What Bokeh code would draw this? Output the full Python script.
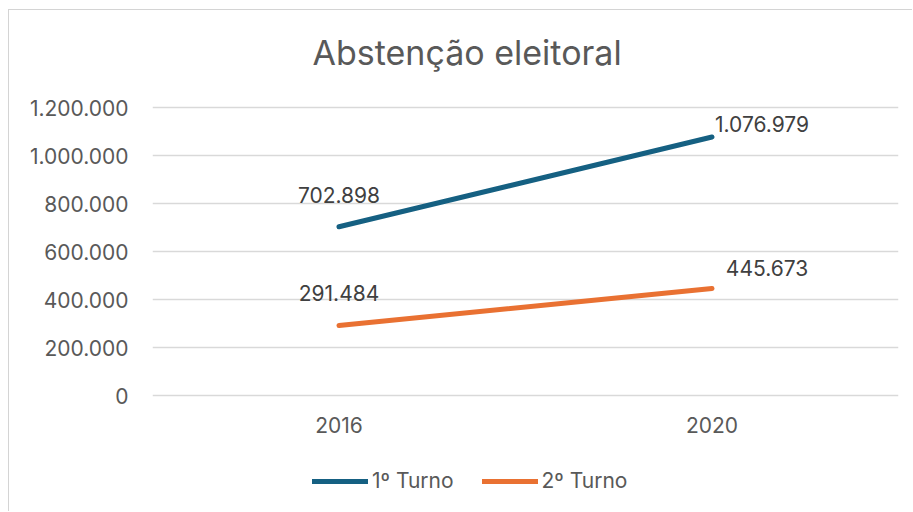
from bokeh.plotting import figure
from bokeh.models import (Range1d, FactorRange, FixedTicker, CustomJSTickFormatter,
                          Legend, LegendItem, ColumnDataSource)
from bokeh.core.properties import value
from bokeh.embed import file_html
from bokeh.resources import INLINE

# ---- data ----
years = ["2016", "2020"]
turno1 = [702898, 1076979]
turno2 = [291484, 445673]
series_names = ["1º Turno", "2º Turno"]
y_ticks = [0, 200000, 400000, 600000, 800000, 1000000, 1200000]
title_text = "Abstenção eleitoral"

FONT = "Inter"
AXIS_COL = "#595959"
LABEL_COL = "#404040"
BLUE = "#156082"
ORANGE = "#E97132"

# layout (pixels)
W, H = 904, 502
TOP, LEFT, RIGHT, BOTTOM = 79, 143, 15, 2
PLOT_H = 288                      # pixels from 0 to the top tick
TOP_PAD = 18                      # empty pixels above the top tick inside the frame
FRAME_H = H - TOP - BOTTOM
units_per_px = y_ticks[-1] / PLOT_H
y_low = -(FRAME_H - PLOT_H - TOP_PAD) * units_per_px
y_high = y_ticks[-1] + TOP_PAD * units_per_px


def fmt(v):
    return f"{v:,}".replace(",", ".")


p = figure(width=W, height=H,
           x_range=FactorRange(*years),
           y_range=Range1d(y_low, y_high),
           output_backend="svg", toolbar_location=None,
           min_border_left=LEFT, min_border_right=RIGHT,
           min_border_top=TOP, min_border_bottom=BOTTOM)
p.styles = {"margin-left": "8px", "margin-top": "9px",
            "border-left": "1px solid #d4d4d4", "border-top": "1px solid #d4d4d4"}

p.outline_line_color = None
p.background_fill_color = "white"
p.border_fill_color = "white"

# title
p.title.text = title_text
p.title.align = "left"
p.title.vertical_align = "top"
p.title.text_font = FONT
p.title.text_font_size = "34px"
p.title.text_font_style = "normal"
p.title.text_color = AXIS_COL
p.title.offset = 160
if "standoff" in p.title.properties():
    p.title.standoff = 30

# axes
p.yaxis.ticker = FixedTicker(ticks=y_ticks)
p.yaxis.formatter = CustomJSTickFormatter(
    code=r"return tick.toFixed(0).replace(/\B(?=(\d{3})+(?!\d))/g, '.');")
for ax in (p.xaxis[0], p.yaxis[0]):
    ax.axis_line_color = None
    ax.major_tick_line_color = None
    ax.minor_tick_line_color = None
    ax.major_tick_out = 0
    ax.major_tick_in = 0
    ax.major_label_text_font = FONT
    ax.major_label_text_font_size = "21px"
    ax.major_label_text_color = AXIS_COL
p.yaxis.major_label_standoff = 24
p.xaxis.fixed_location = 0
p.xaxis.major_label_standoff = 21

p.xgrid.grid_line_color = None
p.ygrid.ticker = FixedTicker(ticks=y_ticks)
p.ygrid.grid_line_color = "#d9d9d9"
p.ygrid.grid_line_width = 1.5

# lines
src1 = ColumnDataSource(dict(x=years, y=turno1))
src2 = ColumnDataSource(dict(x=years, y=turno2))
r1 = p.line("x", "y", source=src1, line_color=BLUE, line_width=5, line_cap="round")
r2 = p.line("x", "y", source=src2, line_color=ORANGE, line_width=5, line_cap="round")

# data labels (offsets are styling only)
lab_src = ColumnDataSource(dict(
    x=years + years,
    y=turno1 + turno2,
    text=[fmt(v) for v in turno1 + turno2],
    xo=[0, 3, 0, 55],
    yo=[-32, -13, -33, -21],
    align=["center", "left", "center", "center"],
))
p.text(x="x", y="y", text="text", source=lab_src, x_offset="xo", y_offset="yo",
       text_align="align", text_baseline="middle", text_font=value(FONT),
       text_font_size="21px", text_color=LABEL_COL)

# legend
legend = Legend(items=[LegendItem(label=series_names[0], renderers=[r1]),
                       LegendItem(label=series_names[1], renderers=[r2])],
                orientation="horizontal", location=(160, 17),
                glyph_width=56, glyph_height=20, label_height=20,
                label_standoff=4, spacing=28, padding=0, margin=0,
                border_line_color=None, background_fill_alpha=0,
                label_text_font=FONT, label_text_font_size="21px",
                label_text_color=AXIS_COL)
p.add_layout(legend, "center")

open("out.html", "w").write(file_html(p, INLINE))
